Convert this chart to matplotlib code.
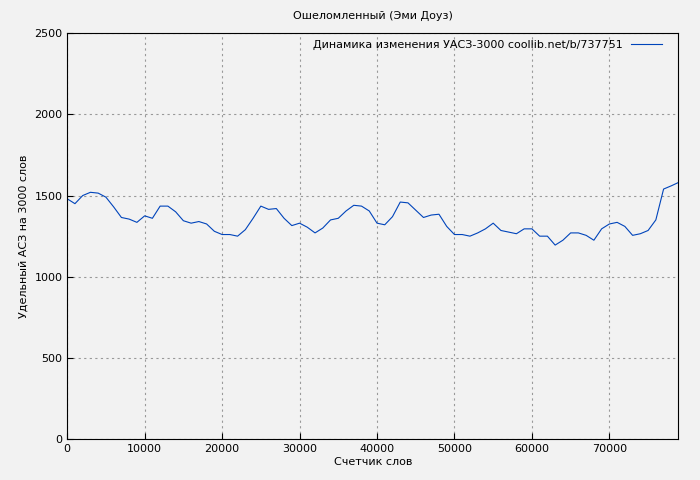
import matplotlib
matplotlib.use("Agg")
import matplotlib.pyplot as plt

words = [0, 1000, 2000, 3000, 4000, 5000, 6000, 7000, 8000, 9000,
         10000, 11000, 12000, 13000, 14000, 15000, 16000, 17000, 18000, 19000,
         20000, 21000, 22000, 23000, 24000, 25000, 26000, 27000, 28000, 29000,
         30000, 31000, 32000, 33000, 34000, 35000, 36000, 37000, 38000, 39000,
         40000, 41000, 42000, 43000, 44000, 45000, 46000, 47000, 48000, 49000,
         50000, 51000, 52000, 53000, 54000, 55000, 56000, 57000, 58000, 59000,
         60000, 61000, 62000, 63000, 64000, 65000, 66000, 67000, 68000, 69000,
         70000, 71000, 72000, 73000, 74000, 75000, 76000, 77000, 78000, 78900]
uasz = [1480, 1450, 1500, 1520, 1515, 1490, 1430, 1365, 1355, 1335,
        1375, 1360, 1435, 1435, 1400, 1345, 1330, 1340, 1325, 1280,
        1260, 1260, 1250, 1290, 1360, 1435, 1415, 1420, 1360, 1315,
        1330, 1305, 1270, 1300, 1350, 1360, 1405, 1440, 1435, 1405,
        1330, 1320, 1370, 1460, 1455, 1410, 1365, 1380, 1385, 1310,
        1260, 1260, 1250, 1270, 1295, 1330, 1285, 1275, 1265, 1295,
        1295, 1250, 1250, 1195, 1225, 1270, 1270, 1255, 1225, 1295,
        1325, 1335, 1310, 1255, 1265, 1285, 1350, 1540, 1560, 1580]

fig = plt.figure(figsize=(7, 4.8), dpi=100, facecolor="#f2f2f2")
ax = fig.add_axes([0.096, 0.085, 0.873, 0.846], facecolor="#f2f2f2")
ax.plot(words, uasz, color="#0044bb", linewidth=0.8,
        label="Динамика изменения УАСЗ-3000 coollib.net/b/737751")
ax.set_xlim(0, 78900)
ax.set_ylim(0, 2500)
ax.set_xticks(range(0, 78000, 10000))
ax.set_yticks(range(0, 2501, 500))
ax.grid(True, color="#999999", linestyle=(0, (2, 3)), linewidth=0.8)
ax.tick_params(labelsize=8, direction="in", length=4)
ax.set_title("Ошеломленный (Эми Доуз)", fontsize=8, pad=10)
ax.set_xlabel("Счетчик слов", fontsize=8, labelpad=2)
ax.set_ylabel("Удельный АСЗ на 3000 слов", fontsize=8)
ax.legend(loc="upper right", fontsize=8, frameon=False, markerfirst=False,
          handlelength=2.8, borderaxespad=0.2, bbox_to_anchor=(0.985, 1.0))
fig.savefig("out.png", dpi=100, facecolor="#f2f2f2")
